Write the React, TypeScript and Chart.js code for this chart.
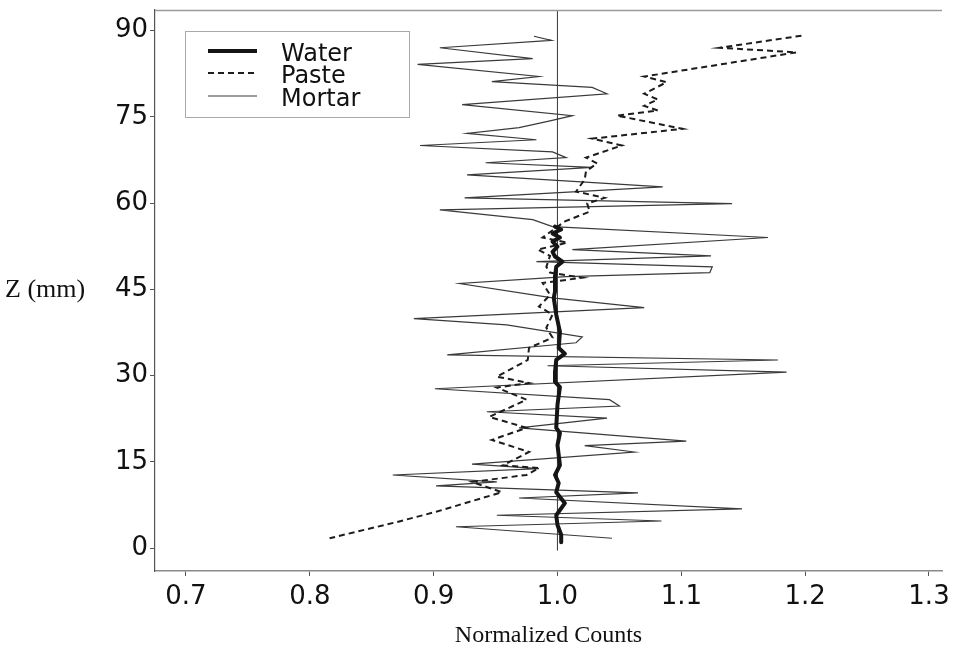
import React, { useEffect, useRef } from 'react';
import { Chart, registerables } from 'chart.js';

Chart.register(...registerables);

// ---- data (Z in mm, normalized counts) ----
const mortarZ = [89.0, 88.3, 87.0, 85.1, 84.1, 82.0, 81.1, 80.1, 79.0, 77.1, 75.2, 74.3, 73.1, 72.1, 71.0, 70.0, 68.9, 67.9, 67.0, 66.2, 64.9, 62.8, 60.9, 59.9, 58.8, 57.1, 55.9, 54.0, 51.9, 50.8, 49.8, 48.9, 47.9, 47.2, 46.0, 43.5, 41.8, 39.9, 38.8, 36.7, 35.7, 33.6, 32.7, 31.7, 30.6, 27.7, 25.8, 24.7, 23.7, 22.6, 20.9, 18.6, 17.8, 16.7, 14.6, 13.8, 12.7, 11.5, 10.8, 9.6, 8.7, 6.8, 5.7, 4.7, 3.7, 1.7];
const mortarCounts = [0.981, 0.995, 0.905, 0.980, 0.887, 0.985, 0.947, 1.028, 1.040, 0.923, 1.012, 0.994, 0.969, 0.927, 0.983, 0.889, 0.996, 1.007, 0.942, 1.028, 0.927, 1.085, 0.925, 1.141, 0.905, 0.980, 0.996, 1.170, 1.012, 1.124, 0.983, 1.125, 1.123, 1.007, 0.921, 0.996, 1.070, 0.884, 0.959, 1.020, 1.015, 0.911, 1.178, 0.992, 1.185, 0.901, 1.042, 1.050, 0.943, 1.040, 0.969, 1.104, 1.022, 1.062, 0.931, 0.985, 0.867, 0.951, 0.902, 1.065, 0.969, 1.149, 0.951, 1.084, 0.918, 1.044];

const pasteZ = [89.1, 87.0, 86.2, 82.0, 81.0, 79.0, 78.0, 76.9, 76.1, 75.2, 72.9, 71.2, 70.0, 67.9, 66.9, 65.5, 64.1, 62.0, 60.9, 59.9, 58.5, 56.8, 54.0, 53.1, 51.9, 50.8, 48.9, 47.9, 47.0, 46.1, 44.0, 42.0, 40.6, 38.3, 36.6, 34.8, 32.7, 29.8, 28.7, 27.9, 25.8, 22.8, 20.9, 18.8, 16.7, 14.4, 13.9, 12.7, 11.5, 9.7, 6.3, 4.5, 1.7];
const pasteCounts = [1.197, 1.131, 1.193, 1.070, 1.088, 1.070, 1.081, 1.070, 1.081, 1.048, 1.101, 1.028, 1.052, 1.023, 1.032, 1.023, 1.022, 1.015, 1.038, 1.024, 1.026, 1.006, 0.988, 1.008, 0.984, 0.994, 0.991, 0.994, 1.020, 0.988, 0.994, 0.985, 0.996, 0.991, 0.996, 0.977, 0.976, 0.951, 0.977, 0.951, 0.975, 0.945, 0.975, 0.947, 0.977, 0.956, 0.985, 0.975, 0.931, 0.955, 0.902, 0.870, 0.816];

const waterZ = [55.9, 55.4, 54.7, 54.0, 53.3, 52.4, 51.5, 50.7, 49.8, 48.9, 47.2, 44.6, 43.5, 40.6, 37.6, 34.8, 33.8, 32.7, 30.6, 28.9, 28.0, 24.9, 20.9, 20.0, 17.9, 14.4, 12.7, 11.3, 9.7, 7.8, 5.7, 4.0, 2.3, 1.0];
const waterCounts = [0.998, 1.003, 0.996, 1.002, 0.996, 1.000, 0.996, 0.998, 1.004, 0.999, 0.998, 0.998, 0.997, 0.999, 1.002, 1.001, 1.006, 0.999, 0.998, 0.998, 1.002, 1.000, 0.999, 1.002, 1.000, 1.002, 0.998, 1.001, 0.999, 1.006, 0.999, 1.000, 1.003, 1.003];

const refZ = [93.6, -0.4];
const refCounts = [1.0, 1.0];

const xTicks = [0.7, 0.8, 0.9, 1.0, 1.1, 1.2, 1.3];
const yTicks = [0, 15, 30, 45, 60, 75, 90];

const seriesLabels = ['Water', 'Paste', 'Mortar'];

const toPoints = (zs: number[], cs: number[]) => zs.map((z, i) => ({ x: cs[i], y: z }));

const frameAndTitlePlugin = {
  id: 'frameAndTitle',
  afterDraw(chart: any) {
    const { ctx, chartArea } = chart;
    const ys = chart.scales.y;
    ctx.save();
    // top frame line
    ctx.strokeStyle = '#9a9a9a';
    ctx.lineWidth = 1.5;
    ctx.beginPath();
    ctx.moveTo(chartArea.left, chartArea.top + 0.5);
    ctx.lineTo(chartArea.right, chartArea.top + 0.5);
    ctx.stroke();
    // horizontal y-axis title
    ctx.fillStyle = '#111';
    ctx.font = '26px "Liberation Serif", serif';
    ctx.textAlign = 'left';
    ctx.textBaseline = 'middle';
    ctx.fillText('Z (mm)', 5, ys.getPixelForValue(45) + 1);
    ctx.restore();
  },
};

const boxLegendPlugin = {
  id: 'boxLegend',
  afterDraw(chart: any) {
    const { ctx } = chart;
    const bx = 185, by = 31, bw = 224, bh = 86;
    ctx.save();
    ctx.strokeStyle = '#555';
    ctx.lineWidth = 1;
    ctx.setLineDash([1, 1]);
    ctx.strokeRect(bx + 0.5, by + 0.5, bw, bh);
    const rows = [51, 73, 96];
    ctx.font = '24px "DejaVu Sans", sans-serif';
    ctx.textAlign = 'left';
    ctx.textBaseline = 'alphabetic';
    chart.data.datasets.slice(0, 3).forEach((ds: any, i: number) => {
      ctx.strokeStyle = ds.borderColor;
      ctx.lineWidth = ds.borderWidth;
      ctx.setLineDash(ds.borderDash || []);
      ctx.beginPath();
      ctx.moveTo(208, rows[i]);
      ctx.lineTo(257, rows[i]);
      ctx.stroke();
      ctx.fillStyle = '#111';
      ctx.fillText(seriesLabels[i], 281, rows[i] + 10);
    });
    ctx.restore();
  },
};

export default function App() {
  const canvasRef = useRef<HTMLCanvasElement | null>(null);

  useEffect(() => {
    const canvas = canvasRef.current;
    if (!canvas) return;
    const chart = new Chart(canvas, {
      type: 'scatter',
      data: {
        datasets: [
          {
            label: seriesLabels[0],
            data: toPoints(waterZ, waterCounts),
            showLine: true,
            borderColor: '#151515',
            borderWidth: 4,
            pointRadius: 0,
            tension: 0,
            borderJoinStyle: 'round',
            borderCapStyle: 'round',
          },
          {
            label: seriesLabels[1],
            data: toPoints(pasteZ, pasteCounts),
            showLine: true,
            borderColor: '#1c1c1c',
            borderWidth: 2,
            borderDash: [6, 4],
            pointRadius: 0,
            tension: 0,
          },
          {
            label: seriesLabels[2],
            data: toPoints(mortarZ, mortarCounts),
            showLine: true,
            borderColor: '#3a3a3a',
            borderWidth: 1.2,
            pointRadius: 0,
            tension: 0,
          },
          {
            label: 'ref',
            data: toPoints(refZ, refCounts),
            showLine: true,
            borderColor: '#444',
            borderWidth: 1,
            pointRadius: 0,
          },
        ],
      },
      options: {
        animation: false,
        responsive: false,
        maintainAspectRatio: false,
        layout: { padding: { top: 10, right: 15, left: 0, bottom: 0 } },
        plugins: { legend: { display: false }, tooltip: { enabled: false } },
        scales: {
          x: {
            type: 'linear',
            min: 0.675,
            max: 1.3105,
            afterBuildTicks: (s: any) => {
              s.ticks = xTicks.map((v) => ({ value: v }));
            },
            afterFit: (s: any) => {
              s.height = 85;
              s.paddingLeft = 0;
              s.paddingRight = 0;
            },
            ticks: {
              callback: (v: any) => Number(v).toFixed(1),
              font: { family: 'DejaVu Sans', size: 26 },
              color: '#111',
              padding: 6,
              maxRotation: 0,
              autoSkip: false,
            },
            grid: { drawOnChartArea: false, tickLength: 5, color: '#555', tickWidth: 1 },
            border: { color: '#8a8a8a', width: 1.5, dash: [2, 1] },
            title: {
              display: true,
              text: 'Normalized Counts',
              font: { family: 'Liberation Serif', size: 24 },
              color: '#111',
              padding: { top: 0, bottom: 6 },
            },
          },
          y: {
            type: 'linear',
            min: -4,
            max: 93.57,
            afterBuildTicks: (s: any) => {
              s.ticks = yTicks.map((v) => ({ value: v }));
            },
            afterFit: (s: any) => {
              s.width = 155;
              s.paddingTop = 0;
              s.paddingBottom = 0;
            },
            ticks: {
              font: { family: 'DejaVu Sans', size: 26 },
              color: '#111',
              padding: 2,
              autoSkip: false,
            },
            grid: { drawOnChartArea: false, tickLength: 5, color: '#555', tickWidth: 1 },
            border: { color: '#555', width: 1.2 },
          },
        },
      },
      plugins: [frameAndTitlePlugin, boxLegendPlugin],
    } as any);
    return () => chart.destroy();
  }, []);

  return (
    <div style={{ position: 'fixed', left: 0, top: 0, width: 957, height: 656, background: '#fff' }}>
      <canvas ref={canvasRef} width={957} height={656} style={{ width: 957, height: 656, display: 'block' }} />
    </div>
  );
}
